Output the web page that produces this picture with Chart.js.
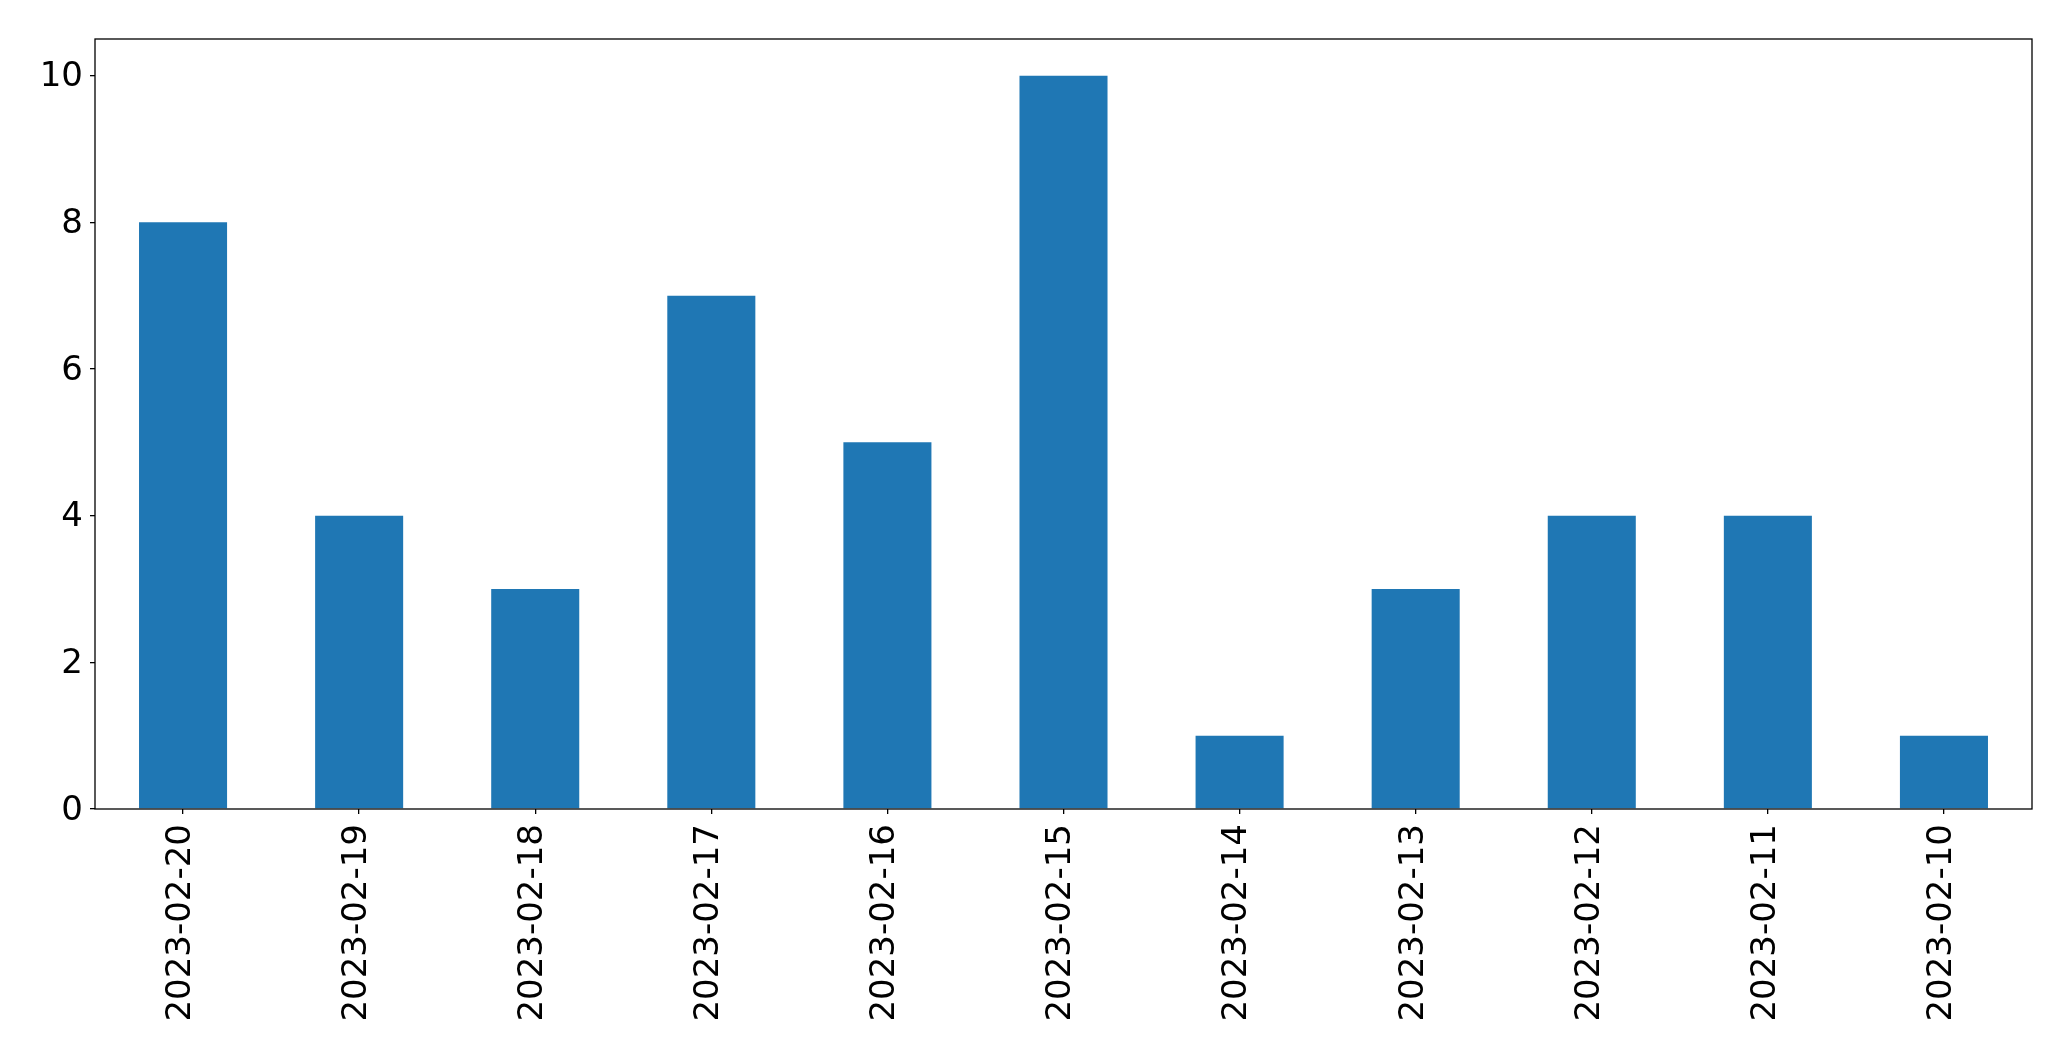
<!DOCTYPE html>
<html>
<head>
<meta charset="utf-8">
<script src="https://cdn.jsdelivr.net/npm/chart.js@4.4.0/dist/chart.umd.min.js"></script>
<style>
  html, body { margin: 0; padding: 0; background: #fff; }
  #wrap { width: 2071px; height: 1061px; position: relative; }
</style>
</head>
<body>
<div id="wrap"><canvas id="barChart"></canvas></div>
<script>
// Chart data
var dates = ['2023-02-20', '2023-02-19', '2023-02-18', '2023-02-17', '2023-02-16', '2023-02-15',
             '2023-02-14', '2023-02-13', '2023-02-12', '2023-02-11', '2023-02-10'];
var counts = [8, 4, 3, 7, 5, 10, 1, 3, 4, 4, 1];
var yTicks = [0, 2, 4, 6, 8, 10];

// Frame round the plot area
var framePlugin = {
  id: 'frame',
  afterDraw: function(chart) {
    var a = chart.chartArea;
    var c = chart.ctx;
    c.save();
    c.strokeStyle = '#000';
    c.lineWidth = 1.3;
    c.strokeRect(a.left, a.top, a.right - a.left, a.bottom - a.top);
    c.restore();
  }
};

var ctx = document.getElementById('barChart').getContext('2d');

var myBarChart = new Chart(ctx, {
  type: 'bar',
  data: {
    labels: dates,
    datasets: [{
      data: counts,
      backgroundColor: '#1f77b4',
      borderWidth: 0,
      barPercentage: 0.5,
      categoryPercentage: 1.0
    }]
  },
  options: {
    responsive: true,
    maintainAspectRatio: false,
    animation: false,
    layout: { padding: { top: 39, right: 39, left: 0, bottom: 0 } },
    plugins: {
      legend: { display: false },
      tooltip: { enabled: false }
    },
    scales: {
      x: {
        grid: { display: true, drawOnChartArea: false, offset: false, color: '#000', lineWidth: 1.3, tickLength: 5 },
        border: { display: false },
        ticks: {
          color: '#000',
          font: { family: 'DejaVu Sans', size: 34 },
          minRotation: 90,
          maxRotation: 90,
          autoSkip: false,
          padding: 10,
          labelOffset: -2
        },
        afterFit: function(scale) { scale.height = 252; }
      },
      y: {
        min: 0,
        max: 10.5,
        grid: { display: true, drawOnChartArea: false, color: '#000', lineWidth: 1.3, tickLength: 5 },
        border: { display: false },
        ticks: {
          stepSize: 2,
          includeBounds: false,
          color: '#000',
          font: { family: 'DejaVu Sans', size: 34 },
          padding: 7,
          labelOffset: 2
        },
        afterBuildTicks: function(scale) {
          scale.ticks = yTicks.map(function(v) { return { value: v }; });
        },
        afterFit: function(scale) { scale.width = 95; }
      }
    }
  },
  plugins: [framePlugin]
});
</script>
</body>
</html>
